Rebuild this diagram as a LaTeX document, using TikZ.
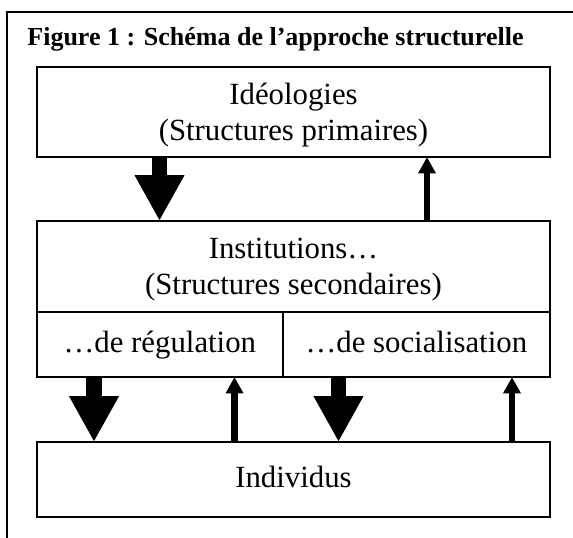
\documentclass[tikz,border=0pt]{standalone}
\usepackage{fontspec}
\setmainfont{Liberation Serif}
\usetikzlibrary{arrows.meta}
\begin{document}
\begin{tikzpicture}[x=0.5pt,y=-0.5pt,
  box/.style={draw,line width=1pt,rectangle,inner sep=0pt,outer sep=0pt},
  txt/.style={inner sep=0pt,outer sep=0pt,align=center,font=\fontsize{15.4}{18}\selectfont},
  celltxt/.style={txt,text height=11.55pt,text depth=3.08pt},
  bigarrow/.style={line width=7.8pt,-{Triangle[width=23.3pt,length=23pt]}},
  thinarrow/.style={line width=3.3pt,-{Triangle[width=8.4pt,length=8.2pt]}}]
\useasboundingbox (0,0) rectangle (573,537);
\draw[line width=1pt] (7,540) -- (7,12) -- (576,12);
\node[anchor=base west,inner sep=0pt,font=\fontsize{13}{15}\selectfont\bfseries] (title) at (27,45)
  {Figure 1 : Schéma de l’approche structurelle};
% boxes
\node[box,minimum width=256.5pt,minimum height=45pt] (ideo) at (293.5,112) {};
\node[box,minimum width=256.5pt,minimum height=45.5pt] (inst) at (293.5,266.5) {};
\node[box,celltxt,minimum width=122.85pt,minimum height=32.5pt] (reg) at (159.85,344.5)
  {…de régulation};
\node[box,celltxt,minimum width=133.65pt,minimum height=32.5pt] (soc) at (416.35,344.5)
  {…de socialisation};
\node[box,celltxt,minimum width=256.5pt,minimum height=37.5pt] (indiv) at (293.5,479.5)
  {Individus};
% two-line texts
\node[txt,anchor=north] (ideoT) at (293.5,82.7) {Idéologies\\(Structures primaires)};
\node[txt,anchor=north] (instT) at (293.5,238) {Institutions…\\(Structures secondaires)};
% arrows
\coordinate (a1) at (159.5,0);
\coordinate (a2) at (427,0);
\coordinate (b1) at (94,0);
\coordinate (b2) at (234.5,0);
\coordinate (b3) at (338.5,0);
\coordinate (b4) at (512,0);
\draw[bigarrow] (ideo.south -| a1) -- (inst.north -| a1);
\draw[thinarrow] (inst.north -| a2) -- (ideo.south -| a2);
\draw[bigarrow] (reg.south -| b1) -- (indiv.north -| b1);
\draw[thinarrow] (indiv.north -| b2) -- (reg.south -| b2);
\draw[bigarrow] (soc.south -| b3) -- (indiv.north -| b3);
\draw[thinarrow] (indiv.north -| b4) -- (soc.south -| b4);
\end{tikzpicture}
\end{document}
